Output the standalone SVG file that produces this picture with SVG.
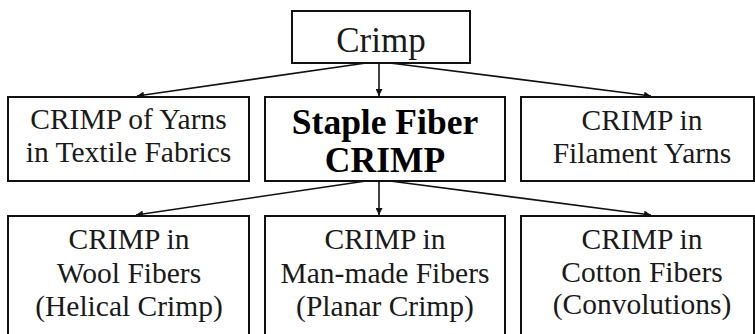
<svg xmlns="http://www.w3.org/2000/svg" width="755" height="334" viewBox="0 0 755 334">
  <style>
    .box { fill: #ffffff; stroke: #111111; stroke-width: 2; }
    text { font-family: "Liberation Serif", "Times New Roman", Times, Tinos, "Nimbus Roman", "Nimbus Roman No9 L", FreeSerif, "Noto Serif", "DejaVu Serif", serif; }
    .lbl { font-size: 29.5px; fill: #1a1a1a; text-anchor: middle; }
    .big { font-size: 35px; }
    .bold { font-weight: bold; font-size: 35.5px; fill: #000000; }
    .edge { stroke: #111111; stroke-width: 1.6; fill: none; marker-end: url(#arrow); }
  </style>
  <defs>
    <marker id="arrow" viewBox="0 0 10 10" refX="10" refY="5" markerWidth="7" markerHeight="7" markerUnits="userSpaceOnUse" orient="auto">
      <path d="M0,0 L10,5 L0,10 z" fill="#111111"/>
    </marker>
  </defs>
  <rect width="755" height="334" fill="#ffffff"/>

  <g id="connectors">
    <line class="edge" x1="366" y1="63" x2="137" y2="96"/>
    <line class="edge" x1="379" y1="63" x2="379" y2="96"/>
    <line class="edge" x1="390" y1="63" x2="651" y2="96"/>
    <line class="edge" x1="366" y1="181" x2="136" y2="215"/>
    <line class="edge" x1="379" y1="181" x2="379" y2="215"/>
    <line class="edge" x1="390" y1="181" x2="651" y2="215"/>
  </g>

  <g id="crimp">
    <rect class="box" x="292" y="11" width="178" height="52"/>
    <text class="lbl big" x="381" y="52">Crimp</text>
  </g>

  <g id="yarns-in-fabrics">
    <rect class="box" x="8" y="97" width="241" height="84"/>
    <text class="lbl" x="128.5" y="129">CRIMP of Yarns</text>
    <text class="lbl" x="128.5" y="162">in Textile Fabrics</text>
  </g>

  <g id="staple-fiber">
    <rect class="box" x="265" y="97" width="240" height="84"/>
    <text class="lbl bold" x="385" y="134">Staple Fiber</text>
    <text class="lbl bold" x="385" y="172">CRIMP</text>
  </g>

  <g id="filament-yarns">
    <rect class="box" x="521" y="97" width="233" height="84"/>
    <text class="lbl" x="642" y="130">CRIMP in</text>
    <text class="lbl" x="642" y="163">Filament Yarns</text>
  </g>

  <g id="wool-fibers">
    <rect class="box" x="8" y="216" width="241" height="130"/>
    <text class="lbl" x="129" y="249">CRIMP in</text>
    <text class="lbl" x="129" y="283">Wool Fibers</text>
    <text class="lbl" x="129" y="316">(Helical Crimp)</text>
  </g>

  <g id="man-made-fibers">
    <rect class="box" x="265" y="216" width="240" height="130"/>
    <text class="lbl" x="385" y="249">CRIMP in</text>
    <text class="lbl" x="385" y="283">Man-made Fibers</text>
    <text class="lbl" x="385" y="316">(Planar Crimp)</text>
  </g>

  <g id="cotton-fibers">
    <rect class="box" x="521" y="216" width="233" height="130"/>
    <text class="lbl" x="642" y="249">CRIMP in</text>
    <text class="lbl" x="642" y="282">Cotton Fibers</text>
    <text class="lbl" x="642" y="314">(Convolutions)</text>
  </g>
</svg>
